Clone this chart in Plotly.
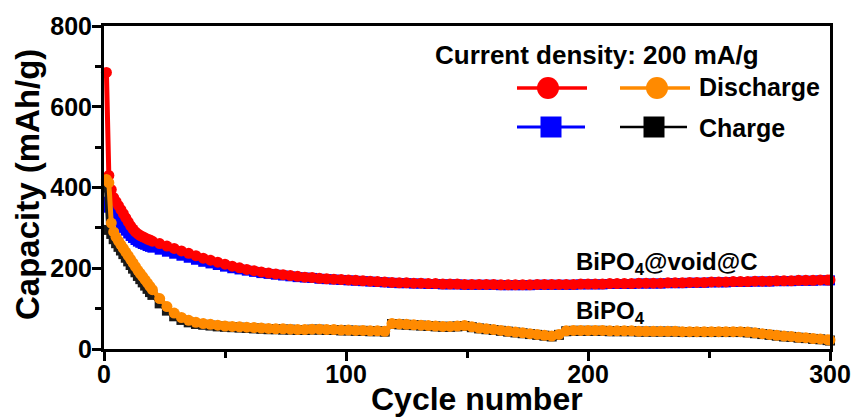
import plotly.graph_objects as go

# ---------------- data ----------------
cycles = list(range(1, 21)) + list(range(23, 300, 3)) + [300]

void_discharge = [
    685, 430, 395, 375, 365, 355, 345, 335, 325, 315,
    305, 297, 290, 285, 281, 278, 275, 272, 270, 267,
    261, 255, 249, 243, 237, 231, 225, 220, 215, 210,
    205, 201, 197, 194, 191, 188, 186, 184, 182, 180,
    178, 177, 175, 174, 173, 172, 171, 170, 169, 168,
    167, 166, 165, 164, 164, 163, 163, 162, 162, 161,
    161, 161, 160, 160, 160, 160, 160, 159, 159, 159,
    159, 159, 160, 160, 160, 160, 160, 160, 161, 161,
    161, 161, 162, 162, 162, 162, 163, 163, 163, 163,
    164, 164, 164, 165, 165, 165, 166, 166, 166, 167,
    167, 167, 168, 168, 168, 169, 169, 169, 170, 170,
    170, 171, 171, 171,
]

void_charge = [
    365, 350, 340, 332, 324, 316, 308, 300, 293, 286,
    280, 275, 270, 266, 263, 260, 258, 255, 253, 251,
    246, 241, 236, 231, 226, 221, 216, 212, 208, 204,
    200, 197, 194, 191, 188, 186, 184, 182, 180, 178,
    177, 176, 174, 173, 172, 171, 170, 169, 168, 167,
    166, 165, 164, 163, 163, 162, 162, 161, 161, 160,
    160, 160, 159, 159, 159, 159, 159, 158, 158, 158,
    158, 158, 159, 159, 159, 159, 159, 159, 160, 160,
    160, 160, 161, 161, 161, 161, 162, 162, 162, 162,
    163, 163, 163, 164, 164, 164, 165, 165, 165, 166,
    166, 166, 167, 167, 167, 168, 168, 168, 169, 169,
    169, 170, 170, 170,
]

bipo_discharge = [
    420, 412, 312, 290, 277, 267, 258, 249, 240, 231,
    222, 213, 204, 195, 187, 179, 171, 163, 155, 147,
    125, 105, 89, 78, 71, 66, 63, 61, 59, 57,
    56, 55, 54, 53, 52, 51, 50, 50, 49, 48,
    48, 49, 49, 48, 48, 47, 47, 46, 46, 45,
    45, 44, 63, 62, 61, 60, 59, 58, 57, 56,
    56, 57, 58, 55, 52, 50, 48, 46, 44, 42,
    40, 38, 36, 34, 32, 36, 45, 46, 46, 46,
    46, 46, 45, 45, 45, 45, 44, 44, 44, 44,
    44, 44, 43, 43, 43, 43, 43, 43, 43, 43,
    43, 42, 40, 38, 36, 34, 32, 31, 29, 28,
    26, 25, 23, 22,
]

bipo_charge = [
    400, 295, 285, 272, 262, 253, 244, 235, 226, 217,
    208, 199, 190, 181, 173, 165, 157, 149, 141, 134,
    113, 95, 81, 72, 66, 62, 60, 58, 56, 55,
    54, 53, 52, 51, 50, 49, 49, 48, 48, 47,
    47, 48, 48, 47, 47, 46, 46, 45, 45, 44,
    44, 43, 62, 61, 60, 59, 58, 57, 56, 55,
    55, 56, 57, 54, 51, 49, 47, 45, 43, 41,
    39, 37, 35, 33, 31, 35, 44, 45, 45, 45,
    45, 45, 44, 44, 44, 44, 43, 43, 43, 43,
    43, 43, 42, 42, 42, 42, 42, 42, 42, 42,
    42, 41, 39, 37, 35, 33, 31, 30, 28, 27,
    25, 24, 22, 21,
]

x_ticks = [0, 100, 200, 300]
y_ticks = [0, 200, 400, 600, 800]

# ---------------- style ----------------
RED, BLUE, ORANGE, BLACK = "#FF0000", "#0000FF", "#FF8A00", "#1A1A1A"
FONT = "Liberation Sans, Arial, sans-serif"

W, H = 858, 420
L, R, T, B = 104, 28, 26, 71
PW, PH = W - L - R, H - T - B


def px(xp):
    return (xp - L) / PW


def py(yp):
    return (H - B - yp) / PH


fig = go.Figure()


def add_series(y, color, symbol, size):
    fig.add_trace(go.Scatter(
        x=cycles, y=y, mode="lines+markers",
        line=dict(color=color, width=5),
        marker=dict(symbol=symbol, size=size, color=color, line=dict(width=0)),
        showlegend=False, cliponaxis=False,
    ))


add_series(void_charge, BLUE, "square", 10)
add_series(void_discharge, RED, "circle", 11)
add_series(bipo_charge, BLACK, "square", 10)
add_series(bipo_discharge, ORANGE, "circle", 11)

axis_common = dict(
    showline=True, linewidth=3, linecolor="black", mirror=True,
    ticks="outside", ticklen=9, tickwidth=3, tickcolor="black",
    showgrid=False, zeroline=False, automargin=False,
    tickfont=dict(family=FONT, size=25, color="black", weight="bold"),
)

fig.update_xaxes(
    range=[0, 300], tickvals=x_ticks, ticklabelstandoff=-8,
    minor=dict(ticks="outside", ticklen=6, tickwidth=3, tickcolor="black", dtick=50, tick0=0),
    **axis_common,
)
fig.update_yaxes(
    range=[0, 800], tickvals=y_ticks, ticklabelstandoff=-5,
    minor=dict(ticks="outside", ticklen=6, tickwidth=3, tickcolor="black", dtick=100, tick0=0),
    **axis_common,
)

# ---------------- legend (drawn by hand, two columns) ----------------
shapes = []


def hline(x0, x1, y, color, width):
    shapes.append(dict(type="line", xref="paper", yref="paper",
                       x0=px(x0), x1=px(x1), y0=py(y), y1=py(y),
                       line=dict(color=color, width=width)))


def glyph(kind, cx, cy, d, color):
    shapes.append(dict(type=kind, xref="paper", yref="paper",
                       x0=px(cx - d / 2), x1=px(cx + d / 2),
                       y0=py(cy + d / 2), y1=py(cy - d / 2),
                       fillcolor=color, line=dict(width=0)))


hline(517, 587, 88, RED, 3.5)
glyph("circle", 548, 88, 22, RED)
hline(620, 690, 88, ORANGE, 3.5)
glyph("circle", 657, 88, 22, ORANGE)
hline(517, 585, 127, BLUE, 3)
glyph("rect", 551, 127, 21, BLUE)
hline(620, 687, 127, "black", 2.5)
glyph("rect", 654, 127, 21, "black")

ann_font = dict(family=FONT, color="black", weight="bold")
annotations = [
    dict(text="Cycle number", x=px(477), y=py(399), xanchor="center", yanchor="middle",
         font=dict(size=32, **ann_font)),
    dict(text="Capacity (mAh/g)", x=px(27), y=py(185), xanchor="center", yanchor="middle",
         textangle=-90, font=dict(size=33, **ann_font)),
    dict(text="Current density: 200 mA/g", x=px(433), y=py(55), xanchor="left", yanchor="middle",
         font=dict(size=26, **ann_font)),
    dict(text="Discharge", x=px(697), y=py(87), xanchor="left", yanchor="middle",
         font=dict(size=25, **ann_font)),
    dict(text="Charge", x=px(697), y=py(128), xanchor="left", yanchor="middle",
         font=dict(size=25, **ann_font)),
    dict(text="BiPO<sub>4</sub>@void@C", x=px(574), y=py(263), xanchor="left", yanchor="middle",
         font=dict(size=24, **ann_font)),
    dict(text="BiPO<sub>4</sub>", x=px(574), y=py(312), xanchor="left", yanchor="middle",
         font=dict(size=24, **ann_font)),
]
for a in annotations:
    a.update(xref="paper", yref="paper", showarrow=False)

fig.update_layout(
    width=W, height=H,
    margin=dict(l=L, r=R, t=T, b=B, pad=0, autoexpand=False),
    paper_bgcolor="white", plot_bgcolor="white",
    shapes=shapes, annotations=annotations,
    font=dict(family=FONT, color="black"),
)

fig.write_html("out.html")
